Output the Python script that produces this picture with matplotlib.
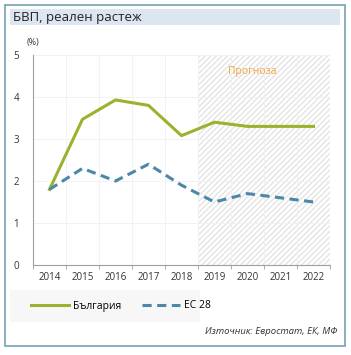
import numpy as np
import matplotlib
matplotlib.use('Agg')
import matplotlib.pyplot as plt
from matplotlib.patches import Rectangle
from matplotlib.lines import Line2D

plt.rcParams['font.family'] = ['Open Sans', 'DejaVu Sans']

# data
years = ['2014', '2015', '2016', '2017', '2018', '2019', '2020', '2021', '2022']
bulgaria = [1.8, 3.47, 3.93, 3.8, 3.08, 3.4, 3.3, 3.3, 3.3]
eu28 = [1.8, 2.3, 2.0, 2.4, 1.9, 1.5, 1.7, 1.6, 1.5]
forecast_from = 5  # index of first forecast year

green = '#9AB32E'
blue = '#4C87AA'

W, H = 351, 355
fig = plt.figure(figsize=(W / 100, H / 100), dpi=100)


def fx(px):
    return px / W


def fy(py):
    return 1 - py / H


# outer frame and title band
fig.patches.append(Rectangle((fx(5), fy(346)), fx(340), 341 / H, transform=fig.transFigure,
                             fill=False, edgecolor='#7FA8B8', lw=1.3))
fig.patches.append(Rectangle((fx(10), fy(25)), fx(330), 16 / H, transform=fig.transFigure,
                             facecolor='#DCE6F0', edgecolor='none'))
fig.text(fx(13), fy(17.5), 'БВП, реален растеж', fontsize=9.5, va='center', ha='left',
         color='#222222')

ax = fig.add_axes([fx(33), fy(265), fx(297), 210 / H])
x = np.arange(len(years))

ax.axvspan(forecast_from - 0.5, len(years) - 0.5, facecolor='white', edgecolor='#E4E4E4',
           hatch='//////', lw=0, zorder=0)
ax.text(6.15, 4.6, 'Прогноза', color='#F2A541', fontsize=7.5, ha='center', va='center')

ax.plot(x, bulgaria, color=green, lw=2.2, zorder=3)
ax.plot(x, eu28, color=blue, lw=2.2, ls=(0, (3, 1.8)), zorder=3)

ax.set_xlim(-0.5, len(years) - 0.5)
ax.set_ylim(0, 5)
ax.set_yticks(range(6))
ax.set_xticks(x)
ax.set_xticklabels(years)
ax.set_xticks(np.arange(-0.5, len(years)), minor=True)
ax.tick_params(axis='x', which='major', length=0, labelsize=7, pad=5, colors='#333333')
ax.tick_params(axis='x', which='minor', length=3, color='#A0A0A0')
ax.tick_params(axis='y', length=0, labelsize=7, pad=10, colors='#333333')
ax.grid(axis='x', which='minor', color='#F0F0F0', lw=0.6)
ax.grid(axis='y', which='major', color='#F0F0F0', lw=0.6)
ax.set_axisbelow(True)
for s in ['top', 'right']:
    ax.spines[s].set_visible(False)
for s in ['left', 'bottom']:
    ax.spines[s].set_color('#A0A0A0')
    ax.spines[s].set_linewidth(0.8)

fig.text(fx(33), fy(43), '(%)', fontsize=6.5, ha='center', va='center', color='#333333')

# legend
fig.patches.append(Rectangle((fx(10), fy(322)), fx(190), 32 / H, transform=fig.transFigure,
                             facecolor='#F7F7F7', edgecolor='none'))
handles = [Line2D([], [], color=green, lw=2.2),
           Line2D([], [], color=blue, lw=2.2, ls=(0, (3, 1.8)))]
fig.legend(handles, ['България', 'ЕС 28'], loc='center left',
           bbox_to_anchor=(fx(22), fy(306)), ncol=2, frameon=False, fontsize=7.5,
           handlelength=3.6, handletextpad=0.4, columnspacing=2.0)

fig.text(fx(337), fy(332), 'Източник: Евростат, ЕК, МФ', fontsize=6.8, style='italic',
         ha='right', va='center', color='#333333')

fig.savefig('out.png', dpi=100)
